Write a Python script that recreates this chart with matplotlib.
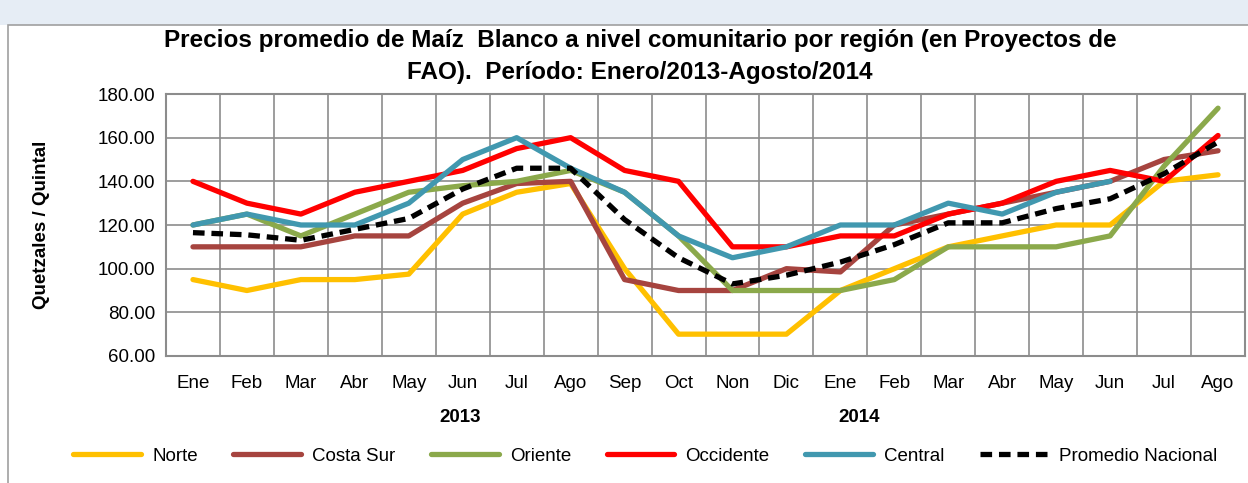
import numpy as np
import matplotlib
matplotlib.use('Agg')
import matplotlib.pyplot as plt
from matplotlib.patches import Rectangle
from matplotlib.ticker import FormatStrFormatter, FixedLocator

# data
months = ['Ene', 'Feb', 'Mar', 'Abr', 'May', 'Jun', 'Jul', 'Ago', 'Sep', 'Oct', 'Non', 'Dic',
          'Ene', 'Feb', 'Mar', 'Abr', 'May', 'Jun', 'Jul', 'Ago']
years = ['2013', '2014']
year_label_pos = [4.95, 12.35]

norte = [95, 90, 95, 95, 97.5, 125, 135, 139, 100, 70, 70, 70,
         90, 100, 110, 115, 120, 120, 140, 143]
costa_sur = [110, 110, 110, 115, 115, 130, 139, 140, 95, 90, 90, 100,
             98.5, 120, 125, 130, 135, 140, 150, 154]
oriente = [120, 125, 115, 125, 135, 138, 140, 145, 135, 115, 90, 90,
           90, 95, 110, 110, 110, 115, 147, 173.5]
occidente = [140, 130, 125, 135, 140, 145, 155, 160, 145, 140, 110, 110,
             115, 115, 125, 130, 140, 145, 140, 161]
central = [120, 125, 120, 120, 130, 150, 160, 146, 135, 115, 105, 110,
           120, 120, 130, 125, 135, 140, np.nan, np.nan]
promedio = [116.5, 115.5, 113, 118, 123, 136.5, 146, 146, 122.5, 105, 93, 97,
            103, 111, 121, 121, 127.5, 132, 143.5, 158]

series = [
    ('Norte', norte, '#FFC000', '-'),
    ('Costa Sur', costa_sur, '#A6443F', '-'),
    ('Oriente', oriente, '#8BA94B', '-'),
    ('Occidente', occidente, '#FF0000', '-'),
    ('Central', central, '#4198AF', '-'),
    ('Promedio Nacional', promedio, '#000000', '--'),
]

plt.rcParams['font.family'] = ['Liberation Sans', 'DejaVu Sans']

fig = plt.figure(figsize=(12.48, 4.83), dpi=100)

# outer frame like the spreadsheet chart area
fig.patches.append(Rectangle((0, 1 - 25 / 483), 1, 25 / 483, transform=fig.transFigure,
                             facecolor='#e6edf5', edgecolor='none', zorder=-3))
fig.patches.append(Rectangle((8 / 1248, -0.01), 1.0, 1 - 25 / 483 + 0.01, transform=fig.transFigure,
                             facecolor='white', edgecolor='#a0a0a0', linewidth=1.2, zorder=-2))

ax = fig.add_axes([166 / 1248, 1 - 356 / 483, (1245 - 166) / 1248, (356 - 94) / 483])
ax.set_facecolor('none')
x = np.arange(len(months))

for name, vals, color, ls in series:
    if ls == '--':
        ax.plot(x, vals, color=color, linestyle=(0, (2.2, 1.3)), linewidth=3.8,
                label=name, zorder=4)
    else:
        ax.plot(x, vals, color=color, linestyle=ls, linewidth=3.8, label=name,
                solid_capstyle='round', zorder=3)

ax.set_xlim(-0.5, len(months) - 0.5)
ax.set_ylim(60, 180)
ax.set_yticks(np.arange(60, 181, 20))
ax.yaxis.set_major_formatter(FormatStrFormatter('%.2f'))
ax.set_xticks(x)
ax.set_xticklabels(months)
ax.xaxis.set_minor_locator(FixedLocator(np.arange(0.5, len(months) - 1, 1)))

ax.grid(True, axis='y', color='#8c8c8c', linewidth=1.2)
ax.grid(True, axis='x', which='minor', color='#8c8c8c', linewidth=1.2)
ax.grid(False, axis='x', which='major')
ax.set_axisbelow(True)
for sp in ax.spines.values():
    sp.set_color('#8c8c8c')
    sp.set_linewidth(1.5)
ax.tick_params(axis='both', which='both', length=0, labelsize=13.5, colors='black')
ax.tick_params(axis='x', pad=14)
ax.tick_params(axis='y', pad=8)

for yr, pos in zip(years, year_label_pos):
    ax.text(pos, -0.235, yr, transform=ax.get_xaxis_transform(), ha='center', va='center',
            fontsize=13.5, fontweight='bold')

ax.set_ylabel('Quetzales / Quintal', fontsize=13.5, fontweight='bold', labelpad=34)

fig.text(0.513, 1 - 40 / 483, 'Precios promedio de Maíz  Blanco a nivel comunitario por región (en Proyectos de',
         ha='center', va='center', fontsize=17.5, fontweight='bold')
fig.text(0.513, 1 - 72 / 483, 'FAO).  Período: Enero/2013-Agosto/2014',
         ha='center', va='center', fontsize=17.5, fontweight='bold')

fig.legend(loc='center', bbox_to_anchor=(0.517, 1 - 456 / 483), ncol=6, frameon=False,
           fontsize=13.5, handlelength=3.6, columnspacing=1.9, handletextpad=0.6)

fig.savefig('out.png', dpi=100)
